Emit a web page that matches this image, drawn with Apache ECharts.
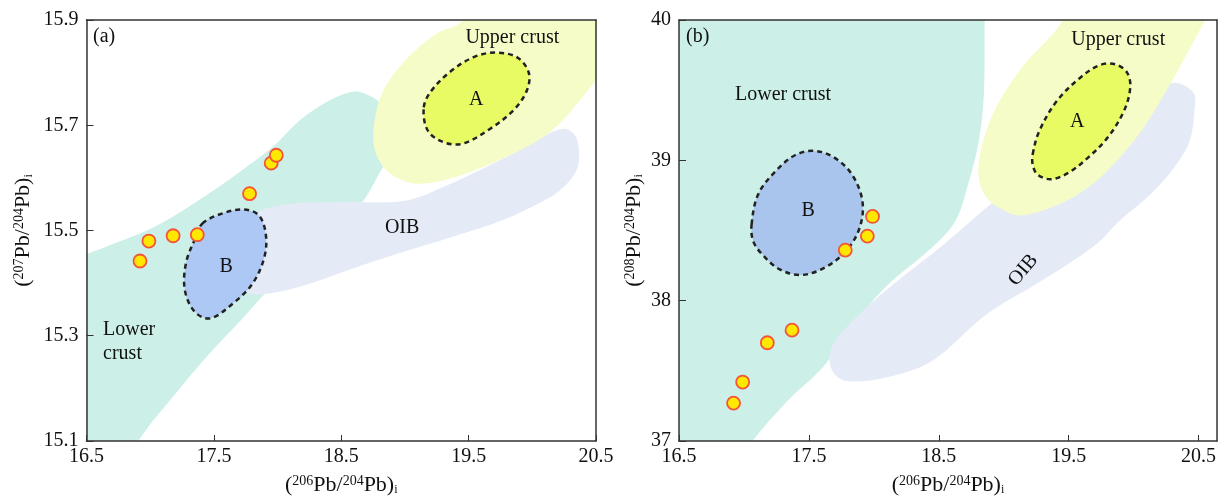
<!DOCTYPE html>
<html lang="en">
<head>
<meta charset="UTF-8">
<title>Pb isotope diagrams</title>
<script src="https://cdn.jsdelivr.net/npm/echarts@6/dist/echarts.min.js"></script>
<style>
    html, body { margin: 0; padding: 0; background: #fff; }
    #main { width: 1223px; height: 497px; }
</style>
</head>
<body>
<div id="main"></div>
<script>
// samples
var pb206 = [16.92, 16.99, 17.18, 17.37, 17.78, 17.95, 17.99];
var pb207 = [15.442, 15.480, 15.490, 15.492, 15.570, 15.628, 15.643];
var pb208 = [37.27, 37.42, 37.70, 37.79, 38.36, 38.46, 38.60];

// tick labels
var xTicks = ['16.5', '17.5', '18.5', '19.5', '20.5'];
var yTicksA = ['15.1', '15.3', '15.5', '15.7', '15.9'];
var yTicksB = ['37', '38', '39', '40'];

// (a) fields, 206Pb/204Pb vs 207Pb/204Pb
var lowerCrustA = [[16.3, 15.44], [16.5, 15.455], [16.738, 15.477], [16.982, 15.501], [17.196, 15.529], [17.44, 15.567],
    [17.684, 15.608], [17.958, 15.658], [18.172, 15.709], [18.355, 15.74], [18.508, 15.758], [18.614, 15.764],
    [18.706, 15.758], [18.797, 15.744], [18.843, 15.721], [18.849, 15.633], [18.797, 15.608], [18.675, 15.557],
    [18.477, 15.501], [18.203, 15.437], [17.958, 15.393], [17.714, 15.33], [17.47, 15.267], [17.226, 15.198],
    [16.906, 15.1], [16.85, 15.06], [16.3, 15.06]];
var upperCrustA = [[19.40, 15.95], [19.453, 15.9], [19.24, 15.873], [19.026, 15.829], [18.859, 15.778], [18.782, 15.734],
    [18.752, 15.671], [18.797, 15.633], [18.904, 15.605], [19.057, 15.59], [19.24, 15.592], [19.484, 15.609],
    [19.789, 15.639], [20.155, 15.69], [20.5, 15.785], [20.65, 15.83], [20.65, 15.95]];
var oibA = [[17.836, 15.532], [18.019, 15.548], [18.264, 15.553], [18.569, 15.554], [19.011, 15.557], [19.331, 15.586],
    [19.667, 15.624], [19.942, 15.658], [20.155, 15.687], [20.262, 15.693], [20.338, 15.68], [20.363, 15.658],
    [20.357, 15.62], [20.262, 15.586], [20.094, 15.557], [19.728, 15.516], [19.331, 15.485], [18.996, 15.46],
    [18.63, 15.431], [18.264, 15.4], [17.958, 15.381], [17.775, 15.381], [17.684, 15.419], [17.714, 15.482]];
var fieldAa = [[19.148, 15.734], [19.209, 15.766], [19.362, 15.803], [19.545, 15.83], [19.713, 15.838], [19.881, 15.829],
    [19.972, 15.8], [19.957, 15.766], [19.85, 15.728], [19.667, 15.693], [19.453, 15.665], [19.301, 15.668], [19.179, 15.69]];
var fieldBa = [[17.409, 15.513], [17.562, 15.532], [17.73, 15.54], [17.852, 15.529], [17.907, 15.494], [17.897, 15.45],
    [17.806, 15.4], [17.653, 15.362], [17.47, 15.333], [17.348, 15.346], [17.272, 15.387], [17.281, 15.438], [17.348, 15.482]];

// (b) fields, 206Pb/204Pb vs 208Pb/204Pb
var lowerCrustB = [[16.3, 40.15], [18.855, 40.15], [18.853, 40], [18.847, 39.47], [18.808, 39.138], [18.733, 38.853],
    [18.628, 38.568], [18.447, 38.378], [18.087, 38.093], [17.786, 37.76], [17.606, 37.523], [17.335, 37.285],
    [17.065, 37.0], [16.98, 36.88], [16.3, 36.88]];
var upperCrustB = [[19.40, 40.12], [19.454, 40], [19.139, 39.66], [18.928, 39.352], [18.823, 39.067], [18.808, 38.876],
    [18.868, 38.734], [18.988, 38.651], [19.109, 38.608], [19.289, 38.639], [19.529, 38.734], [19.77, 38.9],
    [20.04, 39.185], [20.281, 39.542], [20.551, 40], [20.62, 40.12]];
var oibB = [[20.311, 39.553], [20.461, 39.482], [20.47, 39.375], [20.431, 39.138], [20.311, 38.948], [20.13, 38.758],
    [19.89, 38.568], [19.71, 38.401], [19.289, 38.14], [18.868, 37.903], [18.447, 37.57], [18.087, 37.451],
    [17.786, 37.428], [17.681, 37.499], [17.666, 37.641], [17.786, 37.808], [18.087, 38.069], [18.538, 38.401],
    [18.928, 38.71], [19.289, 38.972], [19.74, 39.257], [20.13, 39.47]];
var fieldAb = [[19.223, 39.043], [19.274, 39.209], [19.409, 39.423], [19.589, 39.589], [19.74, 39.679], [19.86, 39.684],
    [19.95, 39.625], [19.974, 39.518], [19.926, 39.352], [19.8, 39.162], [19.649, 39.019], [19.499, 38.912],
    [19.364, 38.865], [19.259, 38.9], [19.223, 38.971]];
var fieldBb = [[17.059, 38.544], [17.11, 38.758], [17.245, 38.924], [17.396, 39.038], [17.546, 39.067], [17.696, 39.019],
    [17.831, 38.9], [17.912, 38.71], [17.891, 38.52], [17.786, 38.354], [17.621, 38.235], [17.441, 38.183],
    [17.275, 38.223], [17.14, 38.33], [17.071, 38.425]];

// text labels [x, y, text]
var labelsA = [[16.551, 15.868, '(a)'], [19.843, 15.866, 'Upper crust'], [19.56, 15.748, 'A'], [17.596, 15.431, 'B'],
    [18.978, 15.505, 'OIB'], [16.63, 15.288, 'Lower\ncrust']];
var labelsB = [[16.554, 39.879, '(b)'], [19.882, 39.857, 'Upper crust'], [19.566, 39.273, 'A'], [17.494, 38.639, 'B'],
    [17.301, 39.466, 'Lower crust']];
var labelsBRot = [[19.15, 38.218, 'OIB']];

var FONT = '"Liberation Serif", "DejaVu Serif", serif';
var leftAligned = { '(a)': 1, '(b)': 1, 'Lower\ncrust': 1 };

function polySeries(idx, pts, fill, dashed, z) {
    return {
        type: 'custom', xAxisIndex: idx, yAxisIndex: idx, clip: true, silent: true, z: z,
        data: [pts[0]],
        renderItem: function (params, api) {
            var p = pts.map(function (d) { return api.coord(d); });
            var style = { fill: fill };
            if (dashed) {
                style.stroke = '#222';
                style.lineWidth = 2.5;
                style.lineDash = [5, 4];
            }
            return { type: 'polygon', shape: { points: p, smooth: 0.35 }, style: style };
        }
    };
}

function textSeries(idx, labels, rot) {
    return {
        type: 'custom', xAxisIndex: idx, yAxisIndex: idx, silent: true, z: 8,
        data: labels.map(function (l) { return [l[0], l[1]]; }),
        renderItem: function (params, api) {
            var l = labels[params.dataIndex];
            var c = api.coord([api.value(0), api.value(1)]);
            return {
                type: 'text', x: c[0], y: c[1], rotation: rot || 0,
                style: {
                    text: l[2], fontFamily: FONT, fontSize: 20, fill: '#111', lineHeight: 24,
                    align: leftAligned[l[2]] ? 'left' : 'center', verticalAlign: 'middle'
                }
            };
        }
    };
}

var axisName = {
    fontFamily: FONT, fontSize: 22, color: '#111',
    rich: {
        sup: { fontFamily: FONT, fontSize: 14, verticalAlign: 'top', color: '#111' },
        sub: { fontFamily: FONT, fontSize: 12, verticalAlign: 'bottom', color: '#111' }
    }
};

function mainX(idx, max) {
    return {
        gridIndex: idx, type: 'value', min: 16.5, max: max, interval: 1, z: 10,
        name: '({sup|206}Pb/{sup|204}Pb){sub|i}', nameLocation: 'middle', nameGap: 33, nameTextStyle: axisName,
        axisLine: { onZero: false, lineStyle: { color: '#333', width: 1.5 } },
        axisTick: { inside: true, length: 6, lineStyle: { color: '#333' } },
        splitLine: { show: false },
        axisLabel: {
            fontFamily: FONT, fontSize: 20, color: '#111', margin: 6, showMaxLabel: max === 20.5,
            formatter: function (v) { return xTicks[Math.round(v - 16.5)] || ''; }
        }
    };
}

function mainY(idx, min, max, step, ticks, name, gap) {
    return {
        gridIndex: idx, type: 'value', min: min, max: max, interval: step, z: 10,
        name: name, nameLocation: 'middle', nameGap: gap, nameTextStyle: axisName,
        axisLine: { onZero: false, lineStyle: { color: '#333', width: 1.5 } },
        axisTick: { inside: true, length: 7, lineStyle: { color: '#333' } },
        splitLine: { show: false },
        axisLabel: {
            fontFamily: FONT, fontSize: 20, color: '#111', margin: 8,
            formatter: function (v) { return ticks[Math.round((v - min) / step)] || ''; }
        }
    };
}

function frameAxis(idx, pos, min, max) {
    return {
        gridIndex: idx, type: 'value', position: pos, min: min, max: max, z: 10,
        axisLine: { onZero: false, lineStyle: { color: '#333', width: 1.5 } },
        axisTick: { show: false }, axisLabel: { show: false }, splitLine: { show: false }
    };
}

var chart = echarts.init(document.getElementById('main'));
var option = {
    animation: false,
    backgroundColor: '#fff',
    grid: [
        { left: 86.5, top: 20, width: 509.5, height: 421, containLabel: false, outerBoundsMode: 'none' },
        { left: 679, top: 20, width: 538, height: 421, containLabel: false, outerBoundsMode: 'none' }
    ],
    xAxis: [
        mainX(0, 20.5),
        mainX(1, 20.642),
        frameAxis(0, 'top', 16.5, 20.5),
        frameAxis(1, 'top', 16.5, 20.642)
    ],
    yAxis: [
        mainY(0, 15.1, 15.9, 0.2, yTicksA, '({sup|207}Pb/{sup|204}Pb){sub|i}', 52),
        mainY(1, 37, 40, 1, yTicksB, '({sup|208}Pb/{sup|204}Pb){sub|i}', 34),
        frameAxis(0, 'right', 15.1, 15.9),
        frameAxis(1, 'right', 37, 40)
    ],
    series: [
        polySeries(0, lowerCrustA, '#ccefe7', false, 1),
        polySeries(0, oibA, '#e5ebf6', false, 2),
        polySeries(0, upperCrustA, '#f5fcc8', false, 3),
        polySeries(0, fieldAa, '#e8fa64', true, 4),
        polySeries(0, fieldBa, '#adc8f5', true, 4),
        polySeries(1, lowerCrustB, '#ccefe7', false, 1),
        polySeries(1, oibB, '#e5ebf6', false, 2),
        polySeries(1, upperCrustB, '#f5fcc8', false, 3),
        polySeries(1, fieldAb, '#e8fa64', true, 4),
        polySeries(1, fieldBb, '#a9c5ed', true, 4),
        {
            type: 'scatter', xAxisIndex: 0, yAxisIndex: 0, z: 6, symbolSize: 13,
            itemStyle: { color: '#ffe800', borderColor: '#f4553a', borderWidth: 1.8, opacity: 1 },
            data: pb206.map(function (x, i) { return [x, pb207[i]]; })
        },
        {
            type: 'scatter', xAxisIndex: 1, yAxisIndex: 1, z: 6, symbolSize: 13,
            itemStyle: { color: '#ffe800', borderColor: '#f4553a', borderWidth: 1.8, opacity: 1 },
            data: pb206.map(function (x, i) { return [x, pb208[i]]; })
        },
        textSeries(0, labelsA),
        textSeries(1, labelsB),
        textSeries(1, labelsBRot, 50 * Math.PI / 180)
    ]
};
chart.setOption(option);
</script>
</body>
</html>
